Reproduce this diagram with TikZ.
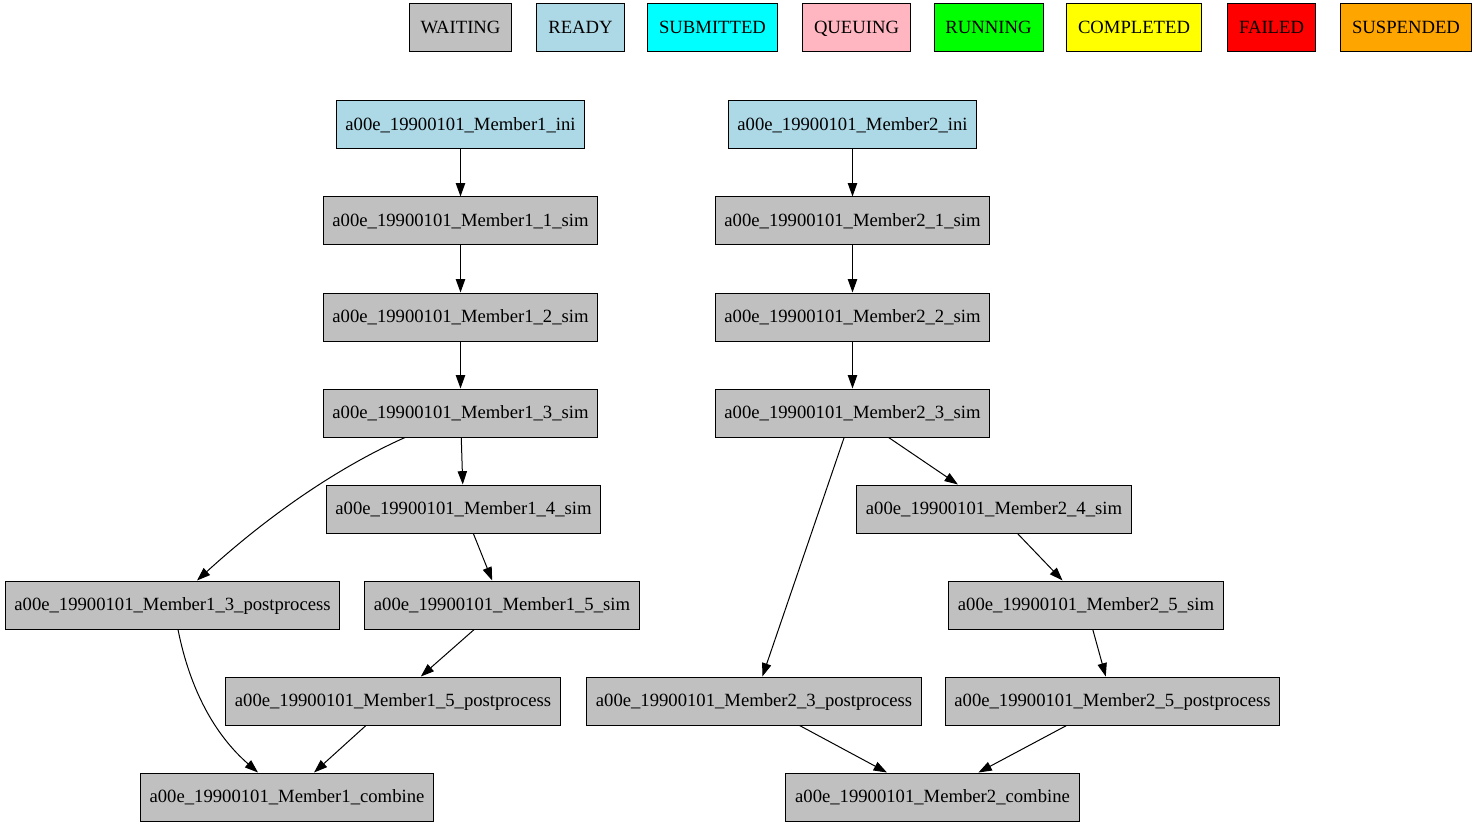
\documentclass[tikz,border=0pt]{standalone}
\usepackage{fontspec}
\setmainfont{Liberation Serif}
\usetikzlibrary{arrows.meta, calc}

\definecolor{waitgray}{HTML}{C0C0C0}
\definecolor{readyblue}{HTML}{ADD8E6}
\definecolor{submcyan}{HTML}{00FFFF}
\definecolor{queuepink}{HTML}{FFB6C1}
\definecolor{rungreen}{HTML}{00FF00}
\definecolor{complyellow}{HTML}{FFFF00}
\definecolor{failred}{HTML}{FF0000}
\definecolor{susporange}{HTML}{FFA500}

\begin{document}
\begin{tikzpicture}[x=0.75pt, y=-0.75pt,
  job/.style={draw, rectangle, fill=waitgray, minimum height=36pt, minimum width=54pt,
    inner xsep=6.9pt, text height=10.5pt, text depth=2.5pt, line width=0.75pt,
    font=\fontsize{14}{16}\selectfont},
  legend/.style={job, inner xsep=8.6pt},
  edge/.style={-{Triangle[length=10pt,width=7pt]}, line width=0.75pt}]
  % Page frame
  \useasboundingbox (0,0) rectangle (1477,827);

  % Legend
  \node[legend] (lwait) at (460.5,28) {WAITING};
  \node[legend, fill=readyblue] (lready) at (580.5,28) {READY};
  \node[legend, fill=submcyan] (lsubm) at (712.5,28) {SUBMITTED};
  \node[legend, fill=queuepink] (lqueue) at (856.5,28) {QUEUING};
  \node[legend, fill=rungreen] (lrun) at (988.5,28) {RUNNING};
  \node[legend, fill=complyellow] (lcompl) at (1134,28) {COMPLETED};
  \node[legend, fill=failred] (lfail) at (1271.5,28) {FAILED};
  \node[legend, fill=susporange] (lsusp) at (1406,28) {SUSPENDED};

  % Member1 jobs
  \node[job, fill=readyblue] (m1ini) at (460.5,125) {a00e\_19900101\_Member1\_ini};
  \node[job] (m11sim) at (460.5,221) {a00e\_19900101\_Member1\_1\_sim};
  \node[job] (m12sim) at (460.5,317) {a00e\_19900101\_Member1\_2\_sim};
  \node[job] (m13sim) at (460.5,413) {a00e\_19900101\_Member1\_3\_sim};
  \node[job] (m14sim) at (463.5,509) {a00e\_19900101\_Member1\_4\_sim};
  \node[job] (m13post) at (172.5,605) {a00e\_19900101\_Member1\_3\_postprocess};
  \node[job] (m15sim) at (502,605) {a00e\_19900101\_Member1\_5\_sim};
  \node[job] (m15post) at (393,701) {a00e\_19900101\_Member1\_5\_postprocess};
  \node[job] (m1comb) at (287,797) {a00e\_19900101\_Member1\_combine};

  % Member2 jobs
  \node[job, fill=readyblue] (m2ini) at (852.5,125) {a00e\_19900101\_Member2\_ini};
  \node[job] (m21sim) at (852.5,221) {a00e\_19900101\_Member2\_1\_sim};
  \node[job] (m22sim) at (852.5,317) {a00e\_19900101\_Member2\_2\_sim};
  \node[job] (m23sim) at (852.5,413) {a00e\_19900101\_Member2\_3\_sim};
  \node[job] (m24sim) at (994,509) {a00e\_19900101\_Member2\_4\_sim};
  \node[job] (m25sim) at (1086,605) {a00e\_19900101\_Member2\_5\_sim};
  \node[job] (m23post) at (754,701) {a00e\_19900101\_Member2\_3\_postprocess};
  \node[job] (m25post) at (1112.5,701) {a00e\_19900101\_Member2\_5\_postprocess};
  \node[job] (m2comb) at (932.5,797) {a00e\_19900101\_Member2\_combine};

  % Member1 dependencies
  \draw[edge] (m1ini) -- (m11sim);
  \draw[edge] (m11sim) -- (m12sim);
  \draw[edge] (m12sim) -- (m13sim);
  \draw[edge] (m13sim) -- (m14sim);
  \draw[edge] ($(m13sim.south)+(-55.5,0)$) .. controls (350,462) and (280,505) .. (m13post.north -| 197,0);
  \draw[edge] (m14sim) -- (m15sim);
  \draw[edge] (m15sim) -- (m15post);
  \draw[edge] ($(m13post.south)+(5.5,0)$) .. controls (190,690) and (215,735) .. (m1comb.north -| 258,0);
  \draw[edge] (m15post) -- (m1comb);

  % Member2 dependencies
  \draw[edge] (m2ini) -- (m21sim);
  \draw[edge] (m21sim) -- (m22sim);
  \draw[edge] (m22sim) -- (m23sim);
  \draw[edge] (m23sim) -- (m24sim);
  \draw[edge] (m23sim) -- (m23post);
  \draw[edge] (m24sim) -- (m25sim);
  \draw[edge] (m25sim) -- (m25post);
  \draw[edge] (m23post) -- (m2comb);
  \draw[edge] (m25post) -- (m2comb);
\end{tikzpicture}
\end{document}
